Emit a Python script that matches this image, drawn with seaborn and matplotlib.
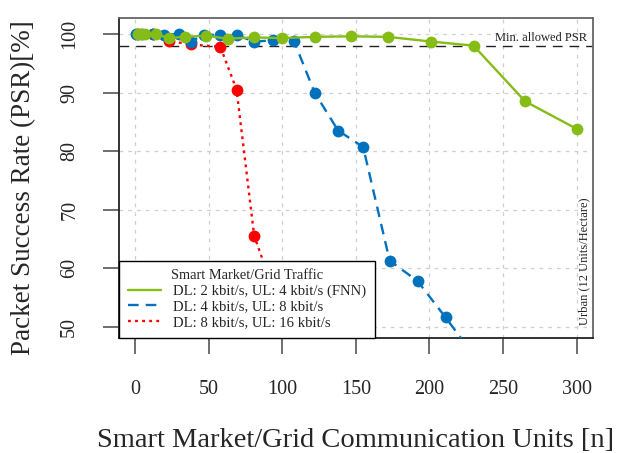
import matplotlib
matplotlib.use("Agg")
import matplotlib.pyplot as plt
from matplotlib.lines import Line2D
import seaborn as sns
import pandas as pd

# ---- data ----
green_x = [2, 4, 7, 14, 23, 34, 48, 63, 81, 100, 122, 147, 172, 201, 230, 265, 300]
green_y = [100, 100, 100, 100, 99.3, 99.5, 99.7, 99.2, 99.4, 99.3, 99.5, 99.6, 99.5, 98.7, 98.0, 88.5, 83.8]

blue_x = [1, 5, 12, 20, 30, 38, 47, 58, 69, 81, 94, 108, 122, 138, 155, 173, 192, 211, 232]
blue_y = [100, 100, 100, 99.9, 100, 98.7, 99.9, 99.8, 99.8, 98.7, 98.9, 98.8, 90.0, 83.5, 80.7, 61.3, 57.8, 51.6, 44.5]

red_x = [2, 12, 23, 38, 58, 69, 81, 120]
red_y = [100, 100, 98.8, 98.2, 97.8, 90.5, 65.5, 38.0]

labels = ["DL: 2 kbit/s, UL: 4 kbit/s (FNN)",
          "DL: 4 kbit/s, UL: 8 kbit/s",
          "DL: 8 kbit/s, UL: 16 kbit/s"]
legend_title = "Smart Market/Grid Traffic"
min_psr = 98
xticks = [0, 50, 100, 150, 200, 250, 300]
yticks = [50, 60, 70, 80, 90, 100]

GREEN = "#86BC16"
BLUE = "#0072BD"
RED = "#FF0000"

sns.set_theme(style="white")
plt.rcParams["font.family"] = ["Liberation Serif", "DejaVu Serif"]

fig = plt.figure(figsize=(6.22, 4.53), dpi=100)
ax = fig.add_axes([0.191, 0.254, 0.762, 0.706])

# grid
ax.set_xticks(xticks)
ax.set_yticks(yticks)
ax.grid(True, color="#cfcfcf", linestyle=(0, (3, 4)), linewidth=0.9)
ax.set_axisbelow(True)

# min allowed PSR
ax.axhline(min_psr, color="#222222", linestyle=(0, (7, 5)), linewidth=1.0, zorder=2)

common = dict(marker="o", markersize=8.5, markeredgewidth=0, linewidth=1.7, sort=False, legend=False)
sns.lineplot(x=red_x, y=red_y, ax=ax, color=RED, linestyle=(0, (1.2, 1.8)), zorder=3, **common)
sns.lineplot(x=blue_x, y=blue_y, ax=ax, color=BLUE, linestyle=(0, (4.5, 3)), zorder=4, **common)
sns.lineplot(x=green_x, y=green_y, ax=ax, color=GREEN, linestyle="-", zorder=5, **common)

ax.set_xlim(-11, 311)
ax.set_ylim(48.1, 102.7)

for s in ax.spines.values():
    s.set_color("#666666")
    s.set_linewidth(1.3)
ax.spines["left"].set_color("#222222")
ax.spines["bottom"].set_color("#222222")

ax.tick_params(axis="both", direction="out", length=11.5, width=1.2, color="#555555",
               labelsize=14.5, bottom=True, left=True)
ax.tick_params(axis="x", pad=19)
ax.tick_params(axis="y", pad=17)
for t in ax.get_yticklabels():
    t.set_rotation(90)
    t.set_va("center")

ax.set_xlabel("Smart Market/Grid Communication Units [n]", fontsize=20.5, labelpad=21)
ax.set_ylabel("Packet Success Rate (PSR)[%]", fontsize=19.5)
ax.yaxis.set_label_coords(-0.175, 0.47)

ax.text(307.5, 98.35, "Min. allowed PSR", ha="right", va="bottom", fontsize=9, color="#222222")
ax.text(305.5, 50.3, "Urban (12 Units/Hectare)", rotation=90, ha="center", va="bottom",
        fontsize=9, color="#222222")

handles = [Line2D([], [], color=GREEN, linestyle="-", linewidth=1.7),
           Line2D([], [], color=BLUE, linestyle=(0, (4.5, 3)), linewidth=1.7),
           Line2D([], [], color=RED, linestyle=(0, (1.2, 1.8)), linewidth=1.7)]
leg = ax.legend(handles, labels, title=legend_title, loc="lower left", bbox_to_anchor=(0, 0),
                borderaxespad=0, fontsize=10.6, title_fontsize=10.4, frameon=True, fancybox=False,
                edgecolor="black", framealpha=1, handlelength=2.3, handletextpad=0.8,
                labelspacing=0.15, borderpad=0.6)
leg.get_frame().set_linewidth(1.0)
leg.set_zorder(10)

fig.savefig("out.png", dpi=100)
